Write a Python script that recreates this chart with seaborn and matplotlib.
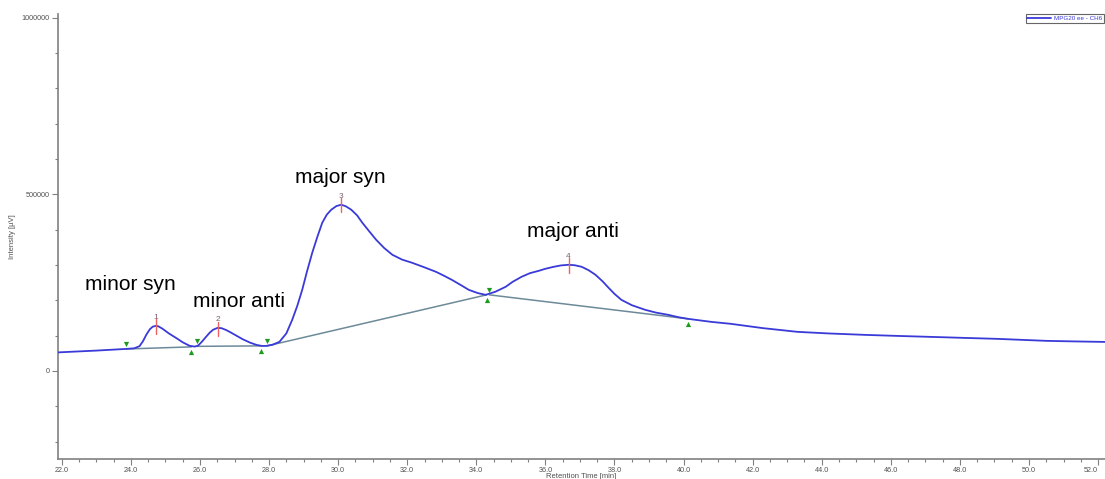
import numpy as np
import pandas as pd
import matplotlib
matplotlib.use("Agg")
import matplotlib.pyplot as plt
import matplotlib.transforms as mtransforms
from matplotlib.ticker import MultipleLocator
import seaborn as sns

# chromatogram trace (min, uV)
rt = [21.89, 23.00, 23.87, 24.10, 24.25, 24.35, 24.45, 24.55, 24.63, 24.72,
      24.80, 24.92, 25.10, 25.33, 25.50, 25.70, 25.85, 25.95, 26.05, 26.19,
      26.28, 26.38, 26.51, 26.62, 26.75, 26.86, 27.05, 27.23, 27.45, 27.64,
      27.80, 27.92, 28.10, 28.30, 28.50, 28.67, 28.82, 28.96, 29.10, 29.25,
      29.40, 29.54, 29.67, 29.80, 29.95, 30.09, 30.22, 30.38, 30.55, 30.70,
      30.90, 31.10, 31.33, 31.57, 31.85, 32.14, 32.50, 32.83, 33.05, 33.29,
      33.55, 33.78, 34.05, 34.27, 34.55, 34.85, 35.05, 35.31, 35.55, 35.81,
      36.00, 36.24, 36.45, 36.67, 36.85, 37.05, 37.25, 37.45, 37.65, 37.83,
      38.00, 38.20, 38.50, 38.89, 39.20, 39.56, 39.85, 40.13, 40.80, 41.37,
      42.30, 43.30, 44.20, 45.24, 46.20, 47.15, 48.10, 49.08, 50.52, 51.30,
      52.20]
intensity = [52400, 57500, 62300, 64000, 70000, 84000, 103000, 118000, 125000, 127500,
             126000, 119000, 106000, 92000, 81000, 71000, 68800, 72000, 82000, 98000,
             108000, 116500, 121800, 121000, 116000, 110500, 100000, 90000, 80000, 73500,
             70500, 70800, 74000, 82200, 106000, 144500, 185000, 229500, 282000, 334300,
             380000, 419300, 442000, 456100, 466500, 470300, 466000, 456100, 440000, 419300,
             395000, 371100, 348000, 328600, 315000, 306000, 293000, 280500, 270000, 257800,
             243000, 229500, 220000, 215300, 224000, 238000, 252000, 266300, 276500, 283300,
             289000, 294600, 298500, 300300, 299000, 294600, 285000, 272000, 254000, 235100,
             218000, 201100, 186000, 172800, 165000, 158600, 152000, 147300, 138800, 133200,
             121000, 110500, 106000, 102000, 99000, 96300, 93500, 90700, 85000, 83500,
             82000]

# integration baselines (start, end) per peak
base_start_rt = [23.87, 25.92, 27.95, 34.37]
base_start_y = [62000, 69500, 70800, 215300]
base_end_rt = [25.75, 27.77, 34.30, 40.13]
base_end_y = [68000, 70800, 215300, 147300]

# peak apexes
peak_no = ["1", "2", "3", "4"]
peak_rt = [24.72, 26.51, 30.09, 36.67]
peak_y = [127500, 121800, 470300, 300300]

labels = ["minor syn", "minor anti", "major syn", "major anti"]
label_rt = [22.67, 25.79, 28.76, 35.46]
label_y = [243600, 195500, 546800, 393800]

df = pd.DataFrame({"rt": rt, "intensity": intensity})

sns.set_style("ticks")
plt.rcParams["font.family"] = ["Liberation Sans", "DejaVu Sans"]

fig = plt.figure(figsize=(11.05, 4.79), dpi=100)
ax = fig.add_axes([58 / 1105, 20 / 479, 1047 / 1105, 445 / 479])

# baselines
for x0, y0, x1, y1 in zip(base_start_rt, base_start_y, base_end_rt, base_end_y):
    ax.plot([x0, x1], [y0, y1], color="#6d8a99", lw=1.1, zorder=2)

sns.lineplot(data=df, x="rt", y="intensity", ax=ax, color="#3a3ad8", lw=1.3,
             sort=True, zorder=3, label="MPG20 ee - CH6")

# start / end markers, nudged off the baseline
up = mtransforms.offset_copy(ax.transData, fig=fig, x=0, y=3.5, units="points")
down = mtransforms.offset_copy(ax.transData, fig=fig, x=0, y=-3.5, units="points")
ax.scatter(base_start_rt, base_start_y, marker="v", s=14, color="#1c9a1c",
           transform=up, zorder=4, linewidths=0)
ax.scatter(base_end_rt, base_end_y, marker="^", s=14, color="#1c9a1c",
           transform=down, zorder=4, linewidths=0)

# apex ticks and numbers
for n, x, y in zip(peak_no, peak_rt, peak_y):
    ax.plot([x, x], [y - 22000, y + 18000], color="#f06060", lw=1.0, zorder=5)
    ax.text(x, y + 14000, n, fontsize=6, color="#7a6070", ha="center",
            va="bottom", zorder=6)

for t, x, y in zip(labels, label_rt, label_y):
    ax.text(x, y, t, fontsize=15, color="black", ha="left", va="center")

ax.set_xlim(21.89, 52.2)
ax.set_ylim(-249300, 1010000)
ax.xaxis.set_major_locator(MultipleLocator(2))
ax.xaxis.set_minor_locator(MultipleLocator(0.5))
ax.yaxis.set_major_locator(MultipleLocator(500000))
ax.yaxis.set_minor_locator(MultipleLocator(100000))
xt = np.arange(22, 53, 2)
ax.set_xticks(xt)
ax.set_xticklabels([f"{v:.1f}" for v in xt])
ax.set_yticks([0, 500000, 1000000])
ax.set_yticklabels(["0", "500000", "1000000"])

ax.tick_params(which="major", length=4, width=0.8, color="#808080",
               labelsize=5.2, labelcolor="#505050", pad=2)
ax.tick_params(which="minor", length=2, width=0.8, color="#808080")
# last x label pulled in so it stays inside the picture
ax.get_xticklabels()[-1].set_horizontalalignment("right")
for side in ["top", "right"]:
    ax.spines[side].set_visible(False)
for side in ["left", "bottom"]:
    ax.spines[side].set_color("#808080")
    ax.spines[side].set_linewidth(1.2)

ax.set_xlabel("Retention Time [min]", fontsize=5.5, color="#505050", labelpad=-1)
ax.set_ylabel("Intensity [µV]", fontsize=5.5, color="#505050", labelpad=4)

leg = ax.legend(loc="upper right", bbox_to_anchor=(1104 / 1105, 1 - 14 / 479),
                bbox_transform=fig.transFigure, fontsize=4.5, frameon=True,
                fancybox=False, edgecolor="#404040", handlelength=3.8,
                borderpad=0.25, handletextpad=0.5, borderaxespad=0)
leg.get_frame().set_linewidth(0.8)
for txt in leg.get_texts():
    txt.set_color("#3a3ad8")

fig.savefig("out.png", dpi=100)
